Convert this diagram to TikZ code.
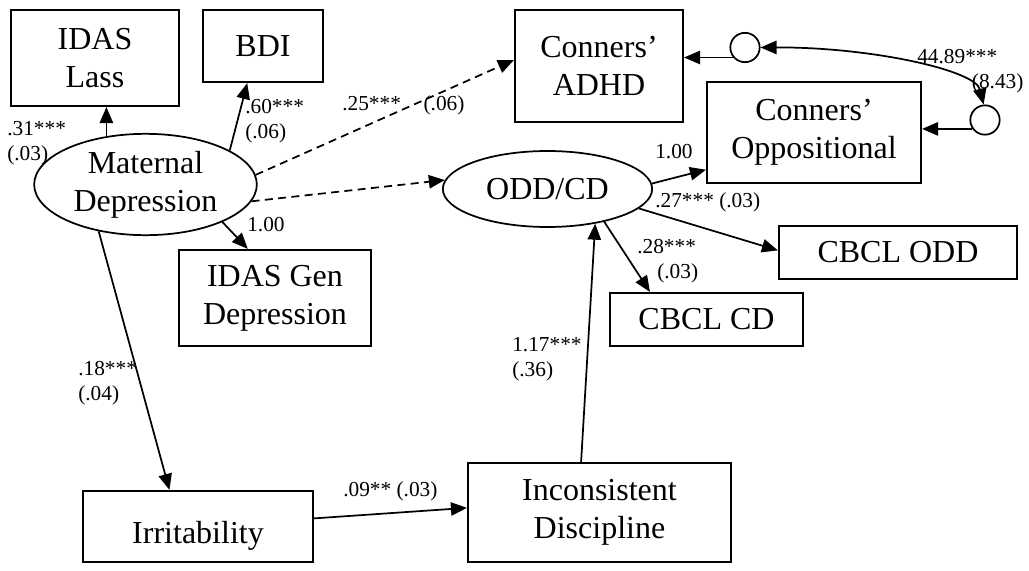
\documentclass[tikz,border=0pt]{standalone}
\usepackage{fontspec}
\setmainfont{Liberation Serif}
\usetikzlibrary{arrows.meta,shapes.geometric}

\tikzset{
  obs/.style={draw, line width=1.6pt, inner sep=0pt, align=center, font=\fontsize{24}{28.5}\selectfont},
  lat/.style={draw, ellipse, line width=1.3pt, inner sep=0pt, align=center, font=\fontsize{24}{28.5}\selectfont},
  resid/.style={draw, circle, line width=1.3pt, minimum size=22pt, inner sep=0pt},
  arr/.style={line width=1.3pt, -{Triangle[length=12pt,width=10pt]}},
  darr/.style={arr, dash pattern=on 6pt off 4pt},
  est/.style={anchor=north west, inner sep=0pt, align=left, font=\fontsize{16}{18.5}\selectfont},
}

\begin{document}
\begin{tikzpicture}[x=0.75pt,y=0.75pt,yscale=-1,xscale=1]
        \useasboundingbox (0,0) rectangle (1029,571);

        % Indicators
        \node [obs, minimum width=126pt, minimum height=72pt] (lass) at (95,58) {IDAS\\Lass};
        \node [obs, minimum width=90pt, minimum height=54pt] (bdi) at (263,46) {BDI};
        \node [obs, minimum width=144pt, minimum height=72pt] (gen) at (275,298) {IDAS Gen\\Depression};
        \node [obs, minimum width=126pt, minimum height=84pt] (adhd) at (599,66) {Conners'\\ADHD};
        \node [obs, minimum width=160.5pt, minimum height=75.75pt] (opp) at (814,132.5) {Conners'\\Oppositional};
        \node [obs, minimum width=178.5pt, minimum height=39.75pt] (codd) at (898,252.5) {CBCL ODD};
        \node [obs, minimum width=144.75pt, minimum height=39.75pt] (ccd) at (706.5,319.5) {CBCL CD};
        \node [obs, minimum width=172.5pt, text height=39pt, text depth=14.25pt] (irr) at (198,526.5) {Irritability};
        \node [obs, minimum width=197.25pt, minimum height=74.25pt] (inc) at (599.5,512.5) {Inconsistent\\Discipline};

        % Latent variables
        \node [lat, minimum width=167pt, minimum height=76pt] (mat) at (145.5,184.5) {Maternal\\Depression};
        \node [lat, minimum width=157pt, minimum height=57pt] (odd) at (547.5,189) {ODD/CD};

        % Residuals
        \node [resid] (e1) at (745,47.5) {};
        \node [resid] (e2) at (985,120) {};

        % Paths
        \draw [arr] (mat.129) -- (mat.129 |- lass.south);
        \draw [arr] (mat.22) -- (bdi.-113);
        \draw [arr] (mat.-26) -- (gen.119);
        \draw [darr] (mat.5) -- (adhd.176);
        \draw [darr] (mat.-9) -- (odd.175);
        \draw [arr] (mat.-135) -- (irr.128);
        \draw [arr] (irr.4) -- (inc.178);
        \draw [arr] (inc.110) -- (odd.-36);
        \draw [arr] (odd.3) -- (opp.-161);
        \draw [arr] (odd.-12) -- (codd.179);
        \draw [arr] (odd.-30) -- (ccd.154);
        \draw [arr] (e1.-140) -- (e1.-140 -| adhd.east);
        \draw [arr] (e2.-145) -- (e2.-145 -| opp.east);
        \draw [line width=1.3pt, {Triangle[length=12pt,width=10pt]}-{Triangle[length=12pt,width=10pt]}] (e1.0) .. controls (870,47) and (975,70) .. (e2.95);

        % Estimates
        \node [est] (l31) at (7,121) {.31***\\(.03)};
        \node [est] (l60) at (245,99) {.60***\\(.06)};
        \node [est] (l25) at (342,95) {.25***\hspace{17pt}(.06)};
        \node [est] (lgen) at (247,217) {1.00};
        \node [est] (l18) at (78,361) {.18***\\(.04)};
        \node [est] (l09) at (343,481) {.09** (.03)};
        \node [est] (l117) at (512,337) {1.17***\\(.36)};
        \node [est] (lopp) at (655,144) {1.00};
        \node [est] (l27) at (655,192) {.27*** (.03)};
        \node [est] (l28) at (637,239) {.28***\\\hspace*{15pt}(.03)};
        \node [est] (lcov) at (917,49) {44.89***\\\hspace*{41pt}(8.43)};

    \end{tikzpicture}
\end{document}
